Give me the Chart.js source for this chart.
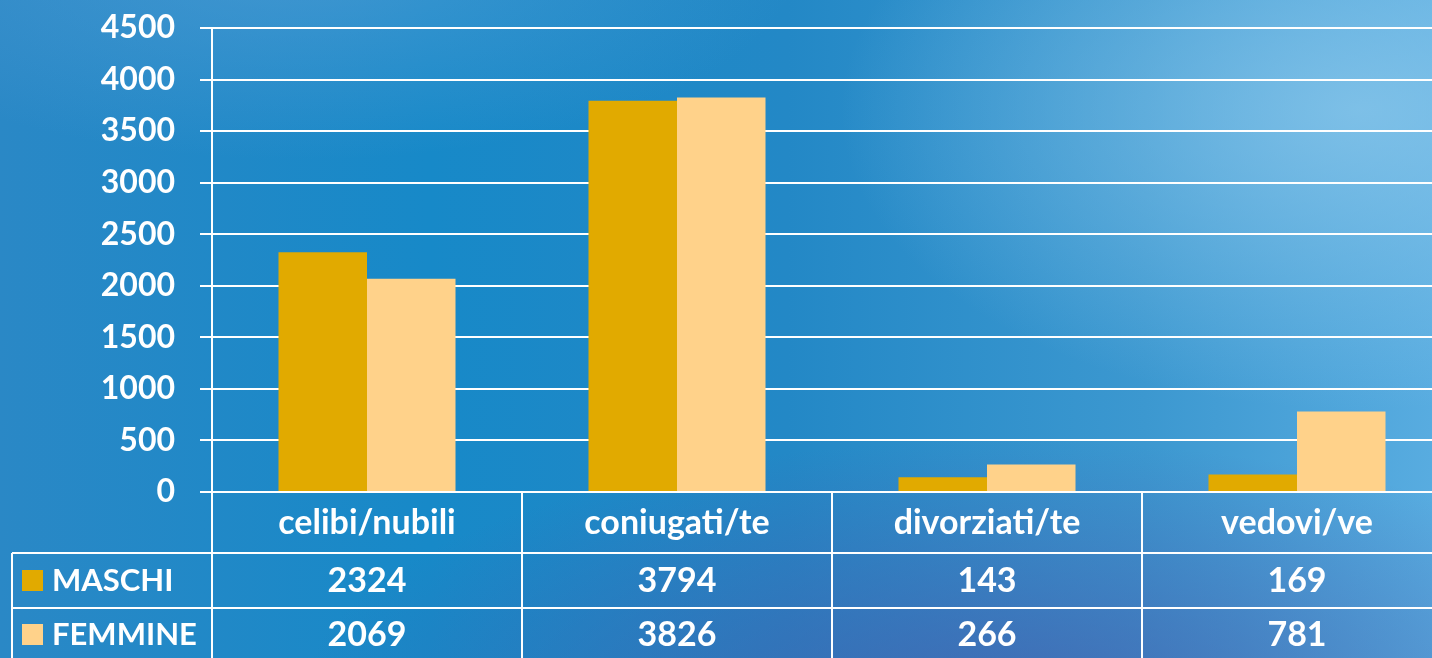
<!DOCTYPE html>
<html>
<head>
<meta charset="utf-8">
<script src="https://cdn.jsdelivr.net/npm/chart.js@4"></script>
<style>
  html, body {
    margin: 0;
    width: 1432px;
    height: 658px;
    overflow: hidden;
  }
  body {
    background:
      radial-gradient(ellipse 520px 300px at 1360px 110px, rgba(140, 200, 235, 0.75), rgba(140, 200, 235, 0) 100%),
      radial-gradient(ellipse 700px 260px at 1000px 700px, rgba(70, 90, 170, 0.7), rgba(70, 90, 170, 0) 100%),
      radial-gradient(ellipse 500px 200px at 300px -40px, rgba(90, 160, 215, 0.6), rgba(90, 160, 215, 0) 100%),
      linear-gradient(90deg, #2a88c6 0%, #1789c8 30%, #2388c6 55%, #3c98d0 80%, #58ace0 100%);
  }
  canvas { display: block; }
</style>
</head>
<body>
<canvas id="chart" width="1452" height="658"></canvas>
<script>
const categories = ["celibi/nubili", "coniugati/te", "divorziati/te", "vedovi/ve"];
const maschi = [2324, 3794, 143, 169];
const femmine = [2069, 3826, 266, 781];
const seriesNames = ["MASCHI", "FEMMINE"];
const yTicks = [0, 500, 1000, 1500, 2000, 2500, 3000, 3500, 4000, 4500];

const colors = ["#e1aa00", "#ffd28a"];
const font = "Lato";
const textFont = "bold 34px " + font;
const legendFont = "bold 31px " + font;

// data table drawn under the plot, using the x scale for column positions
const dataTable = {
  id: "dataTable",
  afterDraw(chart) {
    const { ctx, chartArea, scales } = chart;
    const x = scales.x;
    const top = chartArea.bottom;
    const row1 = 553;
    const row2 = 608;
    const bottom = chart.height;
    const half = x.width / categories.length / 2;

    ctx.save();
    ctx.strokeStyle = "#fff";
    ctx.lineWidth = 2;

    ctx.beginPath();
    for (let i = 0; i <= categories.length; i++) {
      const px = Math.round(x.getPixelForValue(i) - half);
      ctx.moveTo(px, top);
      ctx.lineTo(px, bottom);
    }
    ctx.moveTo(12, row1);
    ctx.lineTo(chart.width, row1);
    ctx.moveTo(12, row2);
    ctx.lineTo(chart.width, row2);
    ctx.moveTo(12, row1);
    ctx.lineTo(12, bottom);
    ctx.stroke();

    ctx.fillStyle = "#fff";
    ctx.textBaseline = "middle";
    ctx.font = textFont;
    ctx.textAlign = "center";
    categories.forEach((c, i) => {
      const cx = x.getPixelForValue(i);
      ctx.fillText(c, cx, 523);
      ctx.fillText(String(maschi[i]), cx, 581);
      ctx.fillText(String(femmine[i]), cx, 635);
    });

    ctx.textAlign = "left";
    ctx.font = legendFont;
    [581, 635].forEach((y, i) => {
      ctx.fillStyle = colors[i];
      ctx.fillRect(22, y - 11, 21, 21);
      ctx.fillStyle = "#fff";
      ctx.fillText(seriesNames[i], 52, y);
    });
    ctx.restore();
  },
};

new Chart(document.getElementById("chart"), {
  type: "bar",
  data: {
    labels: categories,
    datasets: [
      { label: seriesNames[0], data: maschi, backgroundColor: colors[0] },
      { label: seriesNames[1], data: femmine, backgroundColor: colors[1] },
    ],
  },
  options: {
    responsive: false,
    animation: false,
    events: [],
    categoryPercentage: 0.571,
    barPercentage: 1,
    layout: {
      padding: { top: 28, right: 0, left: 0, bottom: 0 },
    },
    plugins: {
      legend: { display: false },
      tooltip: { enabled: false },
    },
    scales: {
      x: {
        grid: { display: false },
        border: { display: false },
        ticks: { display: false },
        afterFit: (scale) => {
          scale.height = 166;
        },
      },
      y: {
        min: 0,
        max: 4500,
        afterBuildTicks: (scale) => {
          scale.ticks = yTicks.map((v) => ({ value: v }));
        },
        grid: {
          color: "#fff",
          lineWidth: 2,
          tickLength: 12,
        },
        border: { display: true, color: "#fff", width: 2 },
        ticks: {
          color: "#fff",
          padding: 25,
          font: { family: font, size: 32, weight: "bold" },
          callback: (value) => String(value),
        },
        afterFit: (scale) => {
          scale.width = 212;
          scale.paddingTop = 0;
          scale.paddingBottom = 0;
        },
      },
    },
  },
  plugins: [dataTable],
});
</script>
</body>
</html>
